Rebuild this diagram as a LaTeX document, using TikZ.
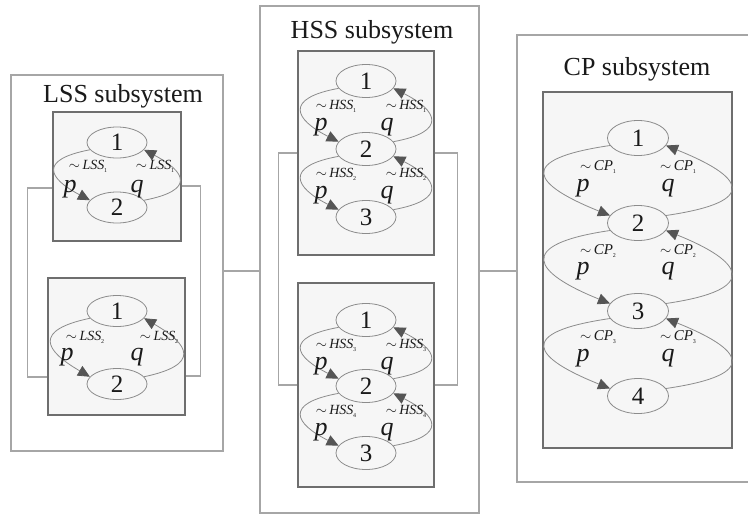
\documentclass[tikz,border=0pt]{standalone}
\usepackage{fontspec}
\setmainfont{Liberation Serif}
\usetikzlibrary{arrows.meta,shapes.geometric}

\definecolor{boxgray}{HTML}{A6A6A6}
\definecolor{innergray}{HTML}{6E6E6E}
\definecolor{panel}{HTML}{F6F6F6}
\definecolor{linegray}{HTML}{8C8C8C}
\definecolor{tipgray}{HTML}{555555}
\definecolor{ink}{HTML}{1A1A1A}

% transition tag such as ~LSS_1
\newcommand\tagtxt[2]{$\sim$\,\textit{#1}\kern-0.3pt\raisebox{-0.45ex}{\fontsize{6}{6}\selectfont #2}}

% two arcs between an upper and a lower state: p goes down on the left, q comes back up on the right
\newcommand\arcpair[4]{%
  \draw[flow] (#1.195) .. controls +(-#3,#4) and +(-0.8*#3,-2.2*#4) .. (#2.165);
  \draw[flow] (#2.15) .. controls +(#3,-#4) and +(0.8*#3,2.2*#4) .. (#1.-15);
}

% tags and letters of one arc pair, placed from the upper state
\newcommand\pairtags[9]{%
  \node[tag] (#1l) at ([shift={(#4,#6)}]#1) {\tagtxt{#2}{#3}};
  \node[tag] (#1r) at ([shift={(#5,#6)}]#1) {\tagtxt{#2}{#3}};
  \node[letter] (#1p) at ([shift={(#7,#9)}]#1) {p};
  \node[letter] (#1q) at ([shift={(#8,#9)}]#1) {q};
}

\begin{document}
\begin{tikzpicture}[x=1pt,y=-1pt,
  outerbox/.style={draw=boxgray,line width=1.3pt,fill=white,inner sep=0pt},
  innerbox/.style={draw=innergray,line width=1.1pt,fill=panel,inner sep=0pt},
  state/.style={ellipse,draw=linegray,line width=0.8pt,fill=panel,inner sep=0pt,
    minimum width=60pt,minimum height=31pt,text=ink,font=\fontsize{25}{25}\selectfont},
  flow/.style={draw=linegray,line width=0.8pt,-{Triangle[length=12pt,width=11pt,color=tipgray]}},
  link/.style={draw=boxgray,line width=1.3pt},
  title/.style={text=ink,inner sep=0pt,anchor=base,font=\fontsize{26}{26}\selectfont},
  tag/.style={text=ink,inner sep=0pt,font=\fontsize{14}{14}\selectfont},
  letter/.style={text=ink,inner sep=0pt,font=\fontsize{26}{26}\selectfont\itshape},
]
\useasboundingbox (0,0) rectangle (748,515);

% subsystem frames
\node[outerbox,minimum width=212pt,minimum height=376pt] (lss) at (117,263) {};
\node[outerbox,minimum width=219pt,minimum height=507pt] (hss) at (369.5,259.5) {};
\node[outerbox,minimum width=235pt,minimum height=447pt] (cp) at (634.5,258.5) {};

\node[title] (lsst) at (123,102) {LSS subsystem};
\node[title] (hsst) at (372,38) {HSS subsystem};
\node[title] (cpt) at (637,75) {CP subsystem};

% links between subsystems
\draw[link] (lss.east |- 0,271) -- (hss.west |- 0,271);
\draw[link] (hss.east |- 0,271) -- (cp.west |- 0,271);

% component panels
\node[innerbox,minimum width=128pt,minimum height=129pt] (lss1) at (117,176.5) {};
\node[innerbox,minimum width=137pt,minimum height=137pt] (lss2) at (116.5,346.5) {};
\node[innerbox,minimum width=136pt,minimum height=204pt] (hss1) at (366,153) {};
\node[innerbox,minimum width=136pt,minimum height=204pt] (hss2) at (366,385) {};
\node[innerbox,minimum width=189pt,minimum height=356pt] (cp1) at (637.5,270) {};

% brackets joining the panels of a subsystem
\draw[link] (lss1.west |- 0,188) -- ++(-25,0) |- (lss2.west |- 0,377);
\draw[link] (lss1.east |- 0,186) -- ++(19,0) |- (lss2.east |- 0,376);
\draw[link] (hss1.west) -- ++(-19,0) |- (hss2.west);
\draw[link] (hss1.east) -- ++(23,0) |- (hss2.east);

% LSS component 1
\begin{scope}
  \clip (lss1.south west) rectangle (lss1.north east);
  \node[state] (a1) at (117,142.5) {1};
  \node[state] (a2) at (117,207.5) {2};
  \arcpair{a1}{a2}{52}{10}
  \pairtags{a1}{LSS}{1}{-29}{38}{24}{-47}{20}{47}
\end{scope}

% LSS component 2
\begin{scope}
  \clip (lss2.south west) rectangle (lss2.north east);
  \node[state] (b1) at (117,311) {1};
  \node[state] (b2) at (117,384) {2};
  \arcpair{b1}{b2}{57}{12}
  \pairtags{b1}{LSS}{2}{-32}{42}{26}{-50}{20}{46}
\end{scope}

% HSS component 1
\begin{scope}[state/.append style={minimum height=33pt}]
  \clip (hss1.south west) rectangle (hss1.north east);
  \node[state] (c1) at (366,81) {1};
  \node[state] (c2) at (366,149) {2};
  \node[state] (c3) at (366,217) {3};
  \arcpair{c1}{c2}{55}{10}
  \arcpair{c2}{c3}{55}{10}
  \pairtags{c1}{HSS}{1}{-30}{40}{25}{-45}{21}{46}
  \pairtags{c2}{HSS}{2}{-30}{40}{25}{-45}{21}{46}
\end{scope}

% HSS component 2
\begin{scope}[state/.append style={minimum height=33pt}]
  \clip (hss2.south west) rectangle (hss2.north east);
  \node[state] (d1) at (366,320) {1};
  \node[state] (d2) at (366,386) {2};
  \node[state] (d3) at (366,453) {3};
  \arcpair{d1}{d2}{55}{10}
  \arcpair{d2}{d3}{55}{10}
  \pairtags{d1}{HSS}{3}{-30}{40}{25}{-45}{21}{46}
  \pairtags{d2}{HSS}{4}{-30}{40}{25}{-45}{21}{46}
\end{scope}

% CP chain
\begin{scope}[state/.append style={minimum width=61pt,minimum height=35pt},
              tag/.append style={font=\fontsize{15}{15}\selectfont}]
  \clip (cp1.south west) rectangle (cp1.north east);
  \node[state] (f1) at (638,138) {1};
  \node[state] (f2) at (638,223) {2};
  \node[state] (f3) at (638,311) {3};
  \node[state] (f4) at (638,396) {4};
  \arcpair{f1}{f2}{96}{14}
  \arcpair{f2}{f3}{96}{14}
  \arcpair{f3}{f4}{96}{14}
  \pairtags{f1}{CP}{1}{-40}{40}{29}{-55}{30}{50}
  \pairtags{f2}{CP}{2}{-40}{40}{28}{-55}{30}{48}
  \pairtags{f3}{CP}{3}{-40}{40}{26}{-55}{30}{47}
\end{scope}
\end{tikzpicture}
\end{document}
